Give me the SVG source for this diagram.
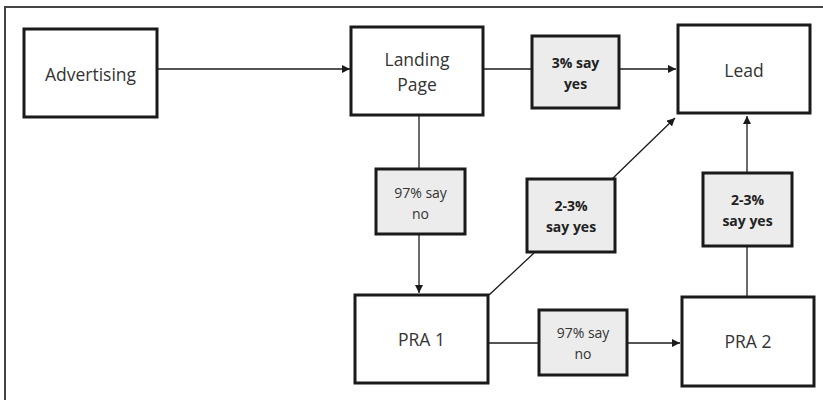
<svg xmlns="http://www.w3.org/2000/svg" width="823" height="400" viewBox="0 0 823 400">
<defs>
<style>
.node{fill:#fff;stroke:#1a1a1a;stroke-width:3}
.lbl{fill:#ececec;stroke:#1a1a1a;stroke-width:3}
.t{font-family:"Open Sans","Liberation Sans",sans-serif;font-size:17.5px;fill:#333;text-anchor:middle}
.s{font-family:"Open Sans","Liberation Sans",sans-serif;font-size:14px;fill:#333;text-anchor:middle}
.b{font-weight:bold;fill:#222}
.c{fill:none;stroke:#1a1a1a;stroke-width:1.3}
.frame{fill:none;stroke:#444;stroke-width:2}
</style>
<marker id="ah" viewBox="0 0 10 10" refX="10" refY="5" markerWidth="8" markerHeight="8" markerUnits="userSpaceOnUse" orient="auto">
<path d="M0,0 L10,5 L0,10 z" fill="#1a1a1a"/>
</marker>
</defs>
<rect width="823" height="400" fill="#fff"/>
<path class="frame" d="M5,400 V7 H823"/>
<g id="connectors">
<line class="c" x1="158" y1="69" x2="350" y2="69" marker-end="url(#ah)"/>
<line class="c" x1="484" y1="69" x2="532" y2="69"/>
<line class="c" x1="619" y1="69" x2="676" y2="69" marker-end="url(#ah)"/>
<line class="c" x1="419" y1="116" x2="419" y2="169"/>
<line class="c" x1="419" y1="234" x2="419" y2="293" marker-end="url(#ah)"/>
<line class="c" x1="489" y1="295" x2="534" y2="253"/>
<line class="c" x1="612" y1="179" x2="675" y2="118" marker-end="url(#ah)"/>
<line class="c" x1="489" y1="343" x2="539" y2="343"/>
<line class="c" x1="627" y1="343" x2="680" y2="343" marker-end="url(#ah)"/>
<line class="c" x1="747" y1="296" x2="747" y2="246"/>
<line class="c" x1="747" y1="173" x2="747" y2="116" marker-end="url(#ah)"/>
</g>
<g id="advertising">
<rect class="node" x="24" y="29" width="133" height="88"/>
<text class="t" x="90.5" y="81">Advertising</text>
</g>
<g id="landing">
<rect class="node" x="351" y="27" width="132" height="88"/>
<text class="t" x="417" y="66">Landing</text>
<text class="t" x="417" y="91">Page</text>
</g>
<g id="lead">
<rect class="node" x="678" y="25" width="132" height="88"/>
<text class="t" x="744" y="77">Lead</text>
</g>
<g id="pra1">
<rect class="node" x="355" y="295" width="133" height="88"/>
<text class="t" x="421.5" y="346">PRA 1</text>
</g>
<g id="pra2">
<rect class="node" x="682" y="297" width="132" height="89"/>
<text class="t" x="748" y="348">PRA 2</text>
</g>
<g id="yes3">
<rect class="lbl" x="532" y="36" width="87" height="72"/>
<text class="s b" x="575.5" y="68">3% say</text>
<text class="s b" x="575.5" y="89">yes</text>
</g>
<g id="no97a">
<rect class="lbl" x="376" y="169" width="89" height="65"/>
<text class="s" x="420.5" y="198">97% say</text>
<text class="s" x="420.5" y="219">no</text>
</g>
<g id="yes23a">
<rect class="lbl" x="527" y="179" width="88" height="73"/>
<text class="s b" x="571" y="211">2-3%</text>
<text class="s b" x="571" y="232">say yes</text>
</g>
<g id="no97b">
<rect class="lbl" x="539" y="310" width="88" height="65"/>
<text class="s" x="583" y="338">97% say</text>
<text class="s" x="583" y="359">no</text>
</g>
<g id="yes23b">
<rect class="lbl" x="703" y="173" width="89" height="73"/>
<text class="s b" x="747.5" y="205">2-3%</text>
<text class="s b" x="747.5" y="226">say yes</text>
</g>
</svg>
